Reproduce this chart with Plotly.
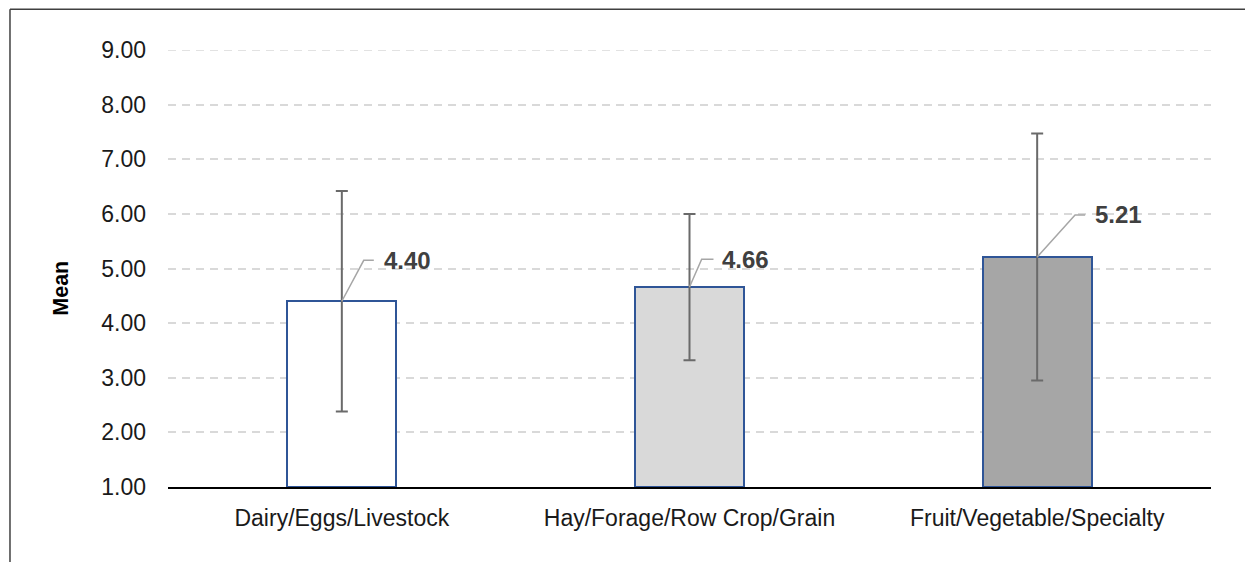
import plotly.graph_objects as go

categories = ["Dairy/Eggs/Livestock", "Hay/Forage/Row Crop/Grain", "Fruit/Vegetable/Specialty"]
means = [4.40, 4.66, 5.21]
errors = [2.02, 1.34, 2.26]
bar_colors = ["#ffffff", "#d9d9d9", "#a6a6a6"]
y_ticks = [1, 2, 3, 4, 5, 6, 7, 8, 9]
label_y = [5.15, 5.17, 5.98]
leader_dx1 = [0.063, 0.035, 0.109]
leader_dx2 = [0.092, 0.069, 0.138]
text_dx = [0.115, 0.089, 0.160]

xs = list(range(len(categories)))

fig = go.Figure()
fig.add_trace(go.Bar(
    x=xs, y=[m - 1 for m in means], base=1,
    width=0.314,
    marker=dict(color=bar_colors, line=dict(color="#2f5597", width=2)),
    error_y=dict(type="data", array=errors, visible=True, color="#6a6a6a",
                 thickness=2, width=6),
    hoverinfo="skip", showlegend=False,
))

for i in xs:
    fig.add_trace(go.Scatter(
        x=[i, i + leader_dx1[i], i + leader_dx2[i]],
        y=[means[i], label_y[i], label_y[i]],
        mode="lines", line=dict(color="#a6a6a6", width=1.5),
        hoverinfo="skip", showlegend=False,
    ))
    fig.add_annotation(
        x=i + text_dx[i], y=label_y[i], xref="x", yref="y",
        text=f"<b>{means[i]:.2f}</b>", showarrow=False,
        xanchor="left", yanchor="middle",
        font=dict(family="Liberation Sans, Arial", size=24, color="#404040"),
    )

fig.add_annotation(
    x=-0.1026, y=0.456, xref="paper", yref="paper",
    text="<b>Mean</b>", textangle=-90, showarrow=False,
    xanchor="center", yanchor="middle",
    font=dict(family="Liberation Sans, Arial", size=21.5, color="#000000"),
)

# top gridline (at the range edge)
fig.add_shape(type="line", xref="paper", yref="y", layer="below",
              x0=0, x1=1, y0=y_ticks[-1], y1=y_ticks[-1],
              line=dict(color="#d9d9d9", width=1.5, dash="8px,6px"))

# outer frame (top and left edges visible)
fig.add_shape(type="line", xref="paper", yref="paper",
              x0=-0.1515, y0=1.093, x1=1.2, y1=1.093,
              line=dict(color="#404040", width=1.5))
fig.add_shape(type="line", xref="paper", yref="paper",
              x0=-0.1515, y0=1.093, x1=-0.1515, y1=-0.3,
              line=dict(color="#404040", width=1.5))

fig.update_layout(
    width=1245, height=554,
    margin=dict(l=160, r=42, t=42, b=75),
    paper_bgcolor="white", plot_bgcolor="white",
    bargap=0,
    xaxis=dict(
        range=[-0.5, 2.5], tickmode="array", tickvals=xs, ticktext=categories,
        showgrid=False, zeroline=False, showline=True, linecolor="#000000",
        linewidth=2, ticks="", ticklabelstandoff=9,
        tickfont=dict(family="Liberation Sans, Arial", size=23, color="#1a1a1a"),
        fixedrange=True,
    ),
    yaxis=dict(
        range=[1, 9], tickmode="array", tickvals=y_ticks,
        ticktext=[f"{v:.2f}" for v in y_ticks],
        showgrid=True, gridcolor="#d9d9d9", gridwidth=1.5, griddash="8px,6px",
        zeroline=False, showline=False, ticks="", ticklabelstandoff=21,
        tickfont=dict(family="Liberation Sans, Arial", size=23, color="#1a1a1a"),
        fixedrange=True,
    ),
)

fig.write_html("out.html")
